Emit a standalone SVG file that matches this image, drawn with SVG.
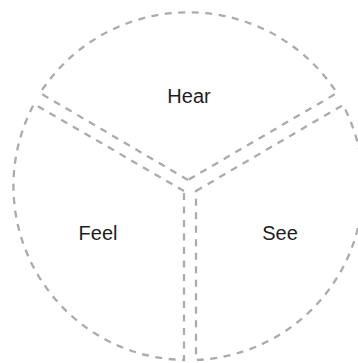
<svg xmlns="http://www.w3.org/2000/svg" width="358" height="363" viewBox="0 0 358 363">
<style>
.sector{fill:none;stroke:#ababab;stroke-width:2.3;stroke-dasharray:7 6.5}
.label{font-family:"Liberation Sans",Arial,sans-serif;font-size:20px;fill:#1e1e1e;text-anchor:middle}
</style>
<rect width="358" height="363" fill="#ffffff"/>
<g id="hear">
<path class="sector" d="M188,180 L40,93 A177,177 0 0 1 337,93 Z"/>
<text class="label" x="189" y="103">Hear</text>
</g>
<g id="feel">
<path class="sector" d="M184,191 L34,104 A174,174 0 0 0 184,360 Z"/>
<text class="label" x="98" y="240">Feel</text>
</g>
<g id="see">
<path class="sector" d="M196,191 L343,105 A174,174 0 0 1 196,360 Z"/>
<text class="label" x="280" y="240">See</text>
</g>
<g id="connectors"></g>
</svg>
